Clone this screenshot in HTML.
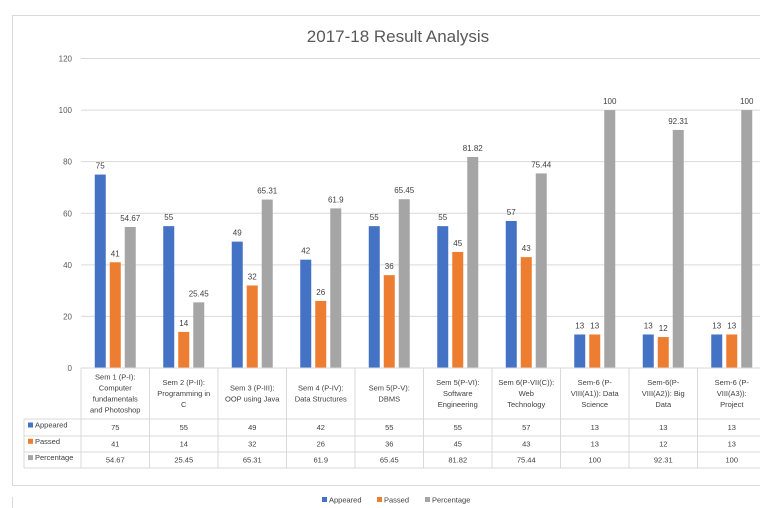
<!DOCTYPE html><html><head><style>body{margin:0;background:#fff}svg{display:block;font-family:"Liberation Sans",sans-serif}</style></head><body>
<svg id="s" width="760" height="508" xmlns="http://www.w3.org/2000/svg">
<rect x="12.5" y="15.5" width="760" height="470" fill="none" stroke="#d9d9d9"/>
<line x1="12.5" y1="497" x2="12.5" y2="508" stroke="#d9d9d9"/>
<text x="398" y="42" font-size="17" fill="#595959" text-anchor="middle">2017-18 Result Analysis</text>
</svg>
<script>
const s=document.getElementById('s');let h='';
const y0=368,k=2.579,L=81,W=68.5;
for(let v=0;v<=120;v+=20){const y=y0-v*k;if(v>0)h+=`<line x1="${L}" x2="760" y1="${y}" y2="${y}" stroke="#d9d9d9"/>`;h+=`<text x="72" y="${y+3}" font-size="8" fill="#595959" text-anchor="end">${v}</text>`;}
const cats=[["Sem 1 (P-I):","Computer","fundamentals","and Photoshop"],["Sem 2 (P-II):","Programming  in","C"],["Sem 3 (P-III):","OOP using Java"],["Sem 4 (P-IV):","Data Structures"],["Sem 5(P-V):","DBMS"],["Sem 5(P-VI):","Software","Engineering"],["Sem 6(P-VII(C)):","Web","Technology"],["Sem-6 (P-","VIII(A1)): Data","Science"],["Sem-6(P-","VIII(A2)): Big","Data"],["Sem-6 (P-","VIII(A3)):","Project"]];
const A=[75,55,49,42,55,55,57,13,13,13],P=[41,14,32,26,36,45,43,13,12,13],Q=["54.67","25.45","65.31","61.9","65.45","81.82","75.44","100","92.31","100"];
const C=["#4472c4","#ed7d31","#a5a5a5"];
for(let i=0;i<10;i++){const cx=L+W*i+W/2;const vals=[A[i],P[i],parseFloat(Q[i])];const lbl=[A[i],P[i],Q[i]];
for(let j=0;j<3;j++){const x=cx-20.5+j*15;const t=y0-vals[j]*k;h+=`<rect x="${x}" y="${t}" width="11" height="${y0-t}" fill="${C[j]}"/><text x="${x+5.5}" y="${t-6}" font-size="8" fill="#404040" text-anchor="middle">${lbl[j]}</text>`;}
const c=cats[i];const n=c.length;const st=393-(n-1)*5.5;c.forEach((t,m)=>h+=`<text x="${cx}" y="${st+m*11+3}" font-size="7.5" fill="#404040" text-anchor="middle">${t}</text>`);
[A[i],P[i],Q[i]].forEach((t,m)=>h+=`<text x="${cx}" y="${430+m*16.3}" font-size="7.5" fill="#404040" text-anchor="middle">${t}</text>`);}
const g='#d9d9d9';h+=`<line x1="${L}" x2="760" y1="${y0}" y2="${y0}" stroke="${g}"/>`;
[419,436,452,468].forEach(y=>h+=`<line x1="24" x2="760" y1="${y}" y2="${y}" stroke="${g}"/>`);
for(let i=0;i<=10;i++){const x=L+W*i;h+=`<line x1="${x}" x2="${x}" y1="${y0}" y2="468" stroke="${g}"/>`;}
h+=`<line x1="24" x2="24" y1="419" y2="468" stroke="${g}"/>`;
["Appeared","Passed","Percentage"].forEach((t,m)=>{const y=427.5+m*16.3;h+=`<rect x="28" y="${y-5}" width="5" height="5" fill="${C[m]}"/><text x="35" y="${y}" font-size="7.5" fill="#404040">${t}</text>`;});
[[322,"Appeared"],[377,"Passed"],[425,"Percentage"]].forEach(([x,t],m)=>{h+=`<rect x="${x}" y="497" width="5" height="5" fill="${C[m]}"/><text x="${x+7}" y="502.5" font-size="7.5" fill="#404040">${t}</text>`;});
s.insertAdjacentHTML('beforeend',h);
</script></body></html>
